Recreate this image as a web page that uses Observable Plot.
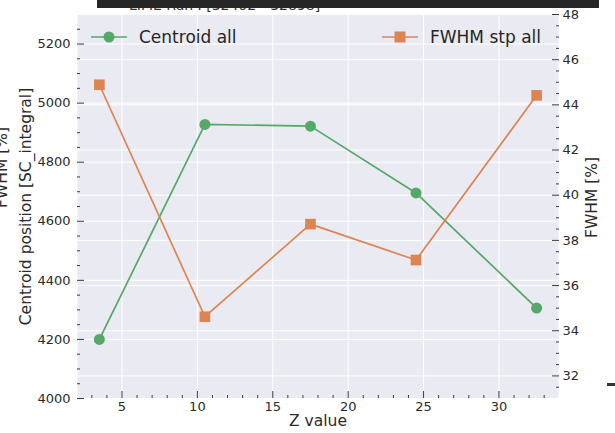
<!DOCTYPE html>
<html><head><meta charset="utf-8">
<script src="https://cdn.jsdelivr.net/npm/d3@7"></script>
<script src="https://cdn.jsdelivr.net/npm/@observablehq/plot@0.6"></script>
<style>
body{margin:0;background:#fff;font-family:"DejaVu Sans",sans-serif;}
#wrap{position:relative;width:615px;height:433px;overflow:hidden;background:#fff;}
#wrap svg{display:block;}
.title{position:absolute;left:129px;top:-3px;font-size:14px;color:#333;white-space:nowrap;}
.bar{position:absolute;left:97px;top:0;width:502px;height:8px;background:#262626;}
.cut{position:absolute;left:607px;top:383px;width:10px;height:3px;background:#333;}
.leg{position:absolute;top:26px;height:22px;display:flex;align-items:center;font-size:17px;color:#262626;white-space:nowrap;}
.leg svg{margin-right:12px;}
</style></head><body><div id="wrap"></div>
<script>
const zValues = [3.5, 10.5, 17.5, 24.5, 32.5];
const centroidAll = [4200, 4928, 4922, 4696, 4306];
const fwhmStpAll = [44.89, 34.62, 38.72, 37.13, 44.42];
const xTicks = [5, 10, 15, 20, 25, 30];
const leftTicks = [4000, 4200, 4400, 4600, 4800, 5000, 5200];
const rightTicks = [32, 34, 36, 38, 40, 42, 44, 46, 48];
const seriesNames = ["Centroid all", "FWHM stp all"];
const colors = ["#55a868", "#dd8452"];
const titleText = "LIME Run I [32402 - 32898]";

const xDomain = [2.05, 33.95];
const leftDomain = [4000, 5300];
const rightDomain = [31, 48];
const toLeft = d3.scaleLinear().domain(rightDomain).range(leftDomain);
const fromLeft = toLeft.invert;

const xMinor = d3.range(3, 34).filter(d => d % 5 !== 0);
const leftMinor = d3.range(4050, 5300, 50).filter(d => d % 200 !== 0);
const rightMinor = d3.range(31.5, 48, 0.5).filter(d => d % 2 !== 0).map(toLeft);

const rows = zValues.map((z, i) => ({z, c: centroidAll[i], f: toLeft(fwhmStpAll[i])}));

const tickColor = "#3c3c3c";
const labelColor = "#2b2b2b";
const plot = Plot.plot({
  width: 615, height: 433,
  marginLeft: 77, marginRight: 57, marginTop: 14, marginBottom: 35,
  style: {fontFamily: "DejaVu Sans, sans-serif", background: "transparent", color: labelColor},
  x: {domain: xDomain},
  y: {domain: leftDomain},
  marks: [
    Plot.frame({fill: "#eaeaf2", stroke: null}),
    Plot.gridX(xTicks, {stroke: "white", strokeOpacity: 1, strokeWidth: 1}),
    Plot.gridY(leftTicks, {stroke: "white", strokeOpacity: 1, strokeWidth: 1}),
    Plot.gridY(rightTicks.map(toLeft), {stroke: "white", strokeOpacity: 1, strokeWidth: 1}),
    Plot.axisX(xTicks, {tickSize: -7, tickPadding: 10, label: null, fontSize: 13, tickFormat: d => String(d), stroke: tickColor, fill: labelColor}),
    Plot.axisX(xMinor, {tickSize: -3, tickPadding: 0, label: null, tickFormat: () => "", stroke: tickColor}),
    Plot.axisY(leftTicks, {anchor: "left", tickSize: -7, tickPadding: 14, label: null, fontSize: 13, tickFormat: d => String(d), stroke: tickColor, fill: labelColor}),
    Plot.axisY(leftMinor, {anchor: "left", tickSize: -3, tickPadding: 0, label: null, tickFormat: () => "", stroke: tickColor}),
    Plot.axisY(rightTicks.map(toLeft), {anchor: "right", tickSize: -7, tickPadding: 11, label: null, fontSize: 13, tickFormat: d => String(Math.round(fromLeft(d))), stroke: tickColor, fill: labelColor}),
    Plot.axisY(rightMinor, {anchor: "right", tickSize: -3, tickPadding: 0, label: null, tickFormat: () => "", stroke: tickColor}),
    Plot.line(rows, {x: "z", y: "c", stroke: colors[0], strokeWidth: 1.7}),
    Plot.dot(rows, {x: "z", y: "c", fill: colors[0], r: 5.5, symbol: "circle"}),
    Plot.line(rows, {x: "z", y: "f", stroke: colors[1], strokeWidth: 1.7}),
    Plot.dot(rows, {x: "z", y: "f", fill: colors[1], r: 6, symbol: "square"}),
    Plot.text(["Z value"], {frameAnchor: "bottom", dy: 27, fontSize: 15.5, fill: labelColor, textAnchor: "middle"}),
    Plot.text(["Centroid position [SC_integral]"], {frameAnchor: "left", dx: -51, rotate: -90, fontSize: 15.5, fill: labelColor, textAnchor: "middle"}),
    Plot.text(["FWHM [%]"], {frameAnchor: "right", dx: 34, dy: -9, rotate: -90, fontSize: 15.5, fill: labelColor, textAnchor: "middle"}),
    Plot.text(["FWHM [%]"], {frameAnchor: "left", dx: -75, dy: -39, rotate: -90, fontSize: 15.5, fill: labelColor, textAnchor: "middle"})
  ]
});

const wrap = document.getElementById("wrap");
wrap.appendChild(plot);

const title = document.createElement("div");
title.className = "title"; title.textContent = titleText; wrap.appendChild(title);
const bar = document.createElement("div"); bar.className = "bar"; wrap.appendChild(bar);
const cut = document.createElement("div"); cut.className = "cut"; wrap.appendChild(cut);

function legendItem(name, color, symbol, left) {
  const d = document.createElement("div");
  d.className = "leg"; d.style.left = left + "px";
  const marker = symbol === "circle"
    ? `<circle cx="18" cy="11" r="5.5" fill="${color}"/>`
    : `<rect x="12.5" y="5.5" width="11" height="11" fill="${color}"/>`;
  d.innerHTML = `<svg width="36" height="22"><line x1="0" x2="36" y1="11" y2="11" stroke="${color}" stroke-width="1.7"/>${marker}</svg><span></span>`;
  d.querySelector("span").textContent = name;
  wrap.appendChild(d);
}
legendItem(seriesNames[0], colors[0], "circle", 91);
legendItem(seriesNames[1], colors[1], "square", 382);
</script>
</body></html>
